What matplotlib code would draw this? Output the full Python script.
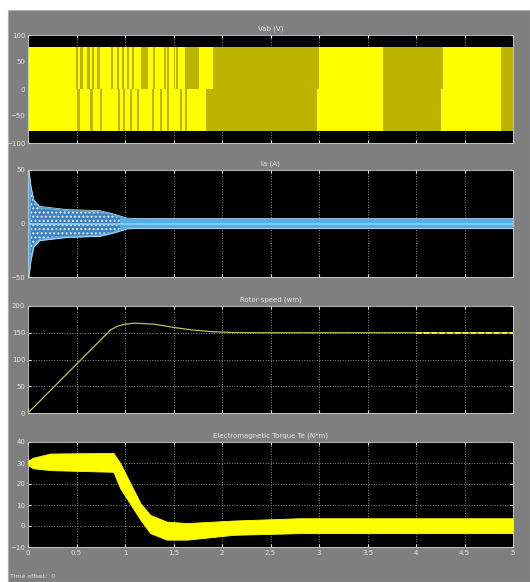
import numpy as np
import matplotlib.pyplot as plt
from matplotlib.patches import Rectangle

# ---- data ----
time_ticks = [0, 0.5, 1, 1.5, 2, 2.5, 3, 3.5, 4, 4.5, 5]
time_labels = ['0', '0.5', '1', '1.5', '2', '2.5', '3', '3.5', '4', '4.5', '5']

# line voltage: PWM band level and the spans where switching is sparse
vab_level = 78
vab_upper_sparse_start = [0.49, 0.54, 0.61, 0.66, 0.71, 0.86, 0.92, 0.97, 1.02, 1.07,
                          1.16, 1.29, 1.40, 1.43, 1.50, 1.53, 1.62, 1.91, 3.66, 4.88]
vab_upper_sparse_width = [0.03, 0.03, 0.03, 0.02, 0.03, 0.02, 0.02, 0.02, 0.02, 0.02,
                          0.08, 0.02, 0.02, 0.02, 0.02, 0.02, 0.14, 1.09, 0.62, 0.12]
vab_lower_sparse_start = [0.51, 0.64, 0.74, 0.93, 0.98, 1.05, 1.12, 1.28, 1.36, 1.43,
                          1.57, 1.62, 1.84, 3.66, 4.88]
vab_lower_sparse_width = [0.03, 0.03, 0.02, 0.02, 0.02, 0.02, 0.02, 0.02, 0.02, 0.02,
                          0.02, 0.02, 1.14, 0.60, 0.12]

# stator current envelope
ia_t = [0, 0.01, 0.03, 0.06, 0.12, 0.4, 0.74, 0.88, 0.95, 1.02, 1.1, 5]
ia_env = [50, 50, 35, 22, 16, 13, 12, 9, 7, 5, 4.7, 4.7]
# start-up interval with the beating pattern inside the envelope
ia_beat_t = [0.03, 0.06, 0.12, 0.4, 0.74, 0.88, 0.95]
ia_beat = [30, 19, 14, 11.5, 10.5, 7.5, 5]

# rotor speed
wm_t = [0, 0.85, 0.92, 1.0, 1.1, 1.3, 1.5, 1.7, 1.9, 2.1, 2.4, 5]
wm = [0, 155, 162, 166, 168, 166, 160, 155, 152, 150.5, 150, 150]

# electromagnetic torque band (upper / lower edges)
te_t = [0, 0.05, 0.23, 0.88, 0.95, 1.16, 1.26, 1.43, 1.64, 2.12, 2.8, 5]
te_hi = [31, 32.5, 34.5, 34.8, 30, 10.8, 5.3, 2.1, 1.4, 2.6, 3.7, 3.7]
te_lo = [29, 27.5, 26.6, 25.8, 18, 2.9, -3.4, -6.5, -6.5, -4.2, -3.4, -3.4]

titles = ['Vab (V)', 'Ia (A)', 'Rotor speed (wm)', 'Electromagnetic Torque Te (N*m)']

BG = '#7f7f7f'
TXT = '#e6e6e6'
GRID = '#8c8c8c'

fig = plt.figure(figsize=(5.3, 5.82), dpi=100, facecolor='white')
fig.patches.append(Rectangle((8 / 530, 0), 1 - 8 / 530, 1 - 10 / 582,
                             transform=fig.transFigure, facecolor=BG,
                             edgecolor='#b0b0b0', lw=0.8, zorder=-10))

W, H = 530, 582
boxes = [(35, 143), (170, 277), (306, 413), (442, 547)]
axes = []
for top, bot in boxes:
    ax = fig.add_axes([28 / W, 1 - bot / H, 485 / W, (bot - top) / H])
    ax.set_facecolor('black')
    ax.set_xlim(0, 5)
    ax.set_xticks(time_ticks)
    ax.grid(True, color=GRID, ls=':', lw=0.7)
    ax.tick_params(colors=TXT, labelsize=5, length=2, direction='in',
                   top=True, right=True, pad=2)
    for s in ax.spines.values():
        s.set_color('#cccccc')
        s.set_linewidth(0.6)
    axes.append(ax)

# --- Vab ---
ax = axes[0]
ax.set_ylim(-100, 100)
ax.set_yticks([-100, -50, 0, 50, 100])
ax.bar(0, vab_level, width=5, align='edge', color='#ffff00', zorder=2)
ax.bar(0, -vab_level, width=5, align='edge', color='#ffff00', zorder=2)
ax.bar(vab_upper_sparse_start, vab_level, width=vab_upper_sparse_width,
       align='edge', color='#bdb400', zorder=3)
ax.bar(vab_lower_sparse_start, -vab_level, width=vab_lower_sparse_width,
       align='edge', color='#bdb400', zorder=3)

# --- Ia ---
ax = axes[1]
ax.set_ylim(-50, 50)
ax.set_yticks([-50, 0, 50])
env = np.array(ia_env)
beat = np.array(ia_beat)
ax.fill_between(ia_t, -env, env, color='#55aee6', lw=0, zorder=2)
ax.fill_between(ia_beat_t, -beat, beat, facecolor='#3d7fb8',
                edgecolor='#e2f0fa', hatch='....', lw=0, zorder=3)
ax.plot(ia_t, env, color='#b4dcf4', lw=0.6, zorder=4)
ax.plot(ia_t, -env, color='#b4dcf4', lw=0.6, zorder=4)
ax.axhline(0, color='#8fd0f5', lw=1.2, zorder=4)

# --- rotor speed ---
ax = axes[2]
ax.set_ylim(0, 200)
ax.set_yticks([0, 50, 100, 150, 200])
ax.plot(wm_t, wm, color='#c0c058', lw=0.9, zorder=3)
ax.plot([4.0, 5.0], [150, 150], color='#f0f040', lw=1.4, ls=(0, (3, 1)), zorder=4)

# --- torque ---
ax = axes[3]
ax.set_ylim(-10, 40)
ax.set_yticks([-10, 0, 10, 20, 30, 40])
ax.fill_between(te_t, te_lo, te_hi, color='#ffff00', lw=0.6, zorder=3)

for i, ax in enumerate(axes):
    ax.set_title(titles[i], color=TXT, fontsize=5, pad=3)
    if i < 3:
        ax.tick_params(labelbottom=False)
axes[3].set_xticklabels(time_labels)

fig.text(10 / W, 1 - 577 / H, 'Time offset:  0', color=TXT, fontsize=4.5,
         va='center', ha='left')

fig.savefig('out.png', dpi=100, facecolor=fig.get_facecolor())
